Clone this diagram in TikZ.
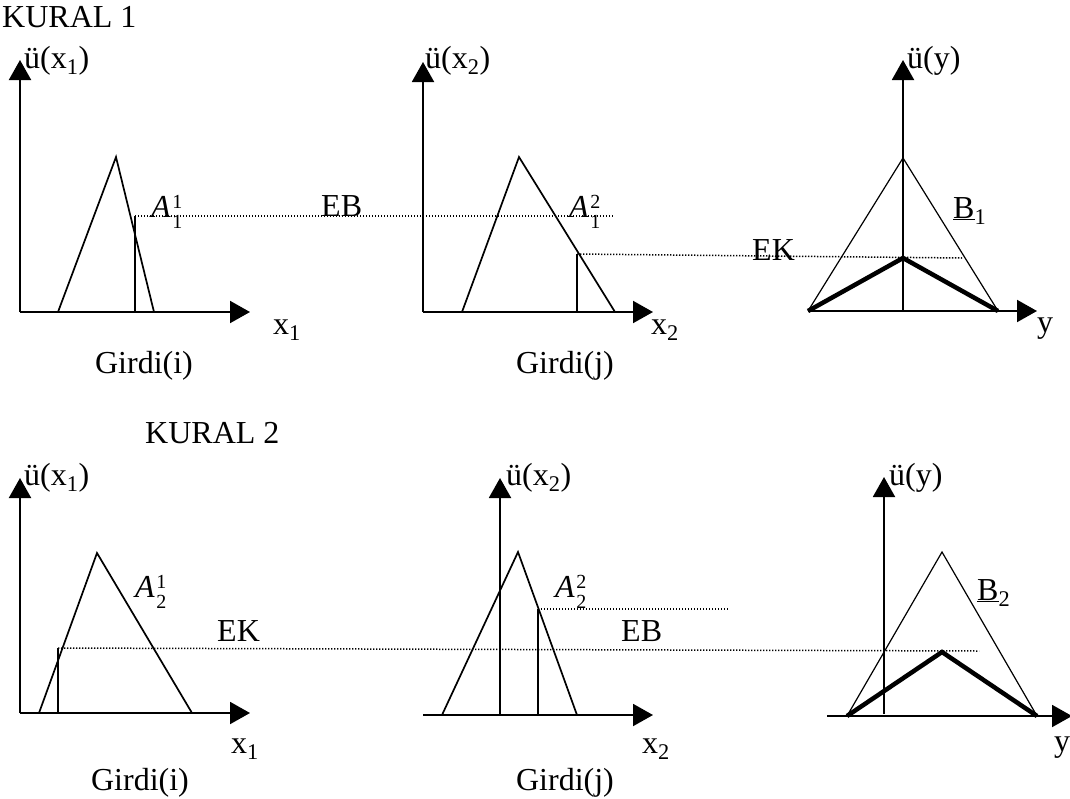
\documentclass[tikz,border=0pt]{standalone}
\usepackage{fontspec}
\setmainfont{Liberation Serif}
\usetikzlibrary{arrows.meta}
\newcommand{\Alab}[2]{\textit{A}\kern1.5pt\makebox[0pt][l]{\raisebox{9pt}{\fontsize{20}{20}\selectfont #1}}\raisebox{-11pt}{\fontsize{20}{20}\selectfont #2}}
\tikzset{
  axis/.style={line width=2pt, -{Triangle[length=20pt,width=22pt]}},
  mf/.style={line width=1.7pt, line join=miter},
  mfthin/.style={line width=1.2pt, line join=miter},
  cutline/.style={line width=1.7pt},
  agg/.style={line width=4.5pt, line join=miter},
  level/.style={line width=1.5pt, dash pattern=on 1.4pt off 1.6pt},
  lbl/.style={inner sep=0pt, anchor=base west},
  lblc/.style={inner sep=0pt, anchor=base}
}
\begin{document}
\begin{tikzpicture}[x=1pt,y=-1pt,font=\fontsize{32}{36}\selectfont]
\useasboundingbox (0,0) rectangle (1070,798);
% ---------- coordinates row 1
\coordinate (a1o) at (20,312); \coordinate (a1y) at (20,60); \coordinate (a1x) at (250,312);
\coordinate (t1l) at (58,312); \coordinate (t1p) at (116,157); \coordinate (t1r) at (154,312);
\coordinate (c1b) at (135,312); \coordinate (c1t) at (135,216); \coordinate (e1r) at (613,216);
\coordinate (a2o) at (423,312); \coordinate (a2y) at (423,62); \coordinate (a2x) at (653,312);
\coordinate (t2l) at (462,312); \coordinate (t2p) at (519,157); \coordinate (t2r) at (615,312);
\coordinate (c2b) at (577,312); \coordinate (c2t) at (577,254); \coordinate (e2r) at (962,258);
\coordinate (a3b) at (903,311); \coordinate (a3y) at (903,60); \coordinate (a3l) at (808,311); \coordinate (a3x) at (1037,311);
\coordinate (t3l) at (808,311); \coordinate (t3p) at (903,158); \coordinate (t3r) at (998,311);
\coordinate (g3p) at (903,258);
% ---------- coordinates row 2
\coordinate (a4o) at (20,713); \coordinate (a4y) at (20,478); \coordinate (a4x) at (250,713);
\coordinate (t4l) at (39,713); \coordinate (t4p) at (97,553); \coordinate (t4r) at (192,713);
\coordinate (c4b) at (58,713); \coordinate (c4t) at (58,648); \coordinate (e4r) at (979,651);
\coordinate (a5l) at (423,715); \coordinate (a5x) at (653,715); \coordinate (a5b) at (500,715); \coordinate (a5y) at (500,478);
\coordinate (t5l) at (442,715); \coordinate (t5p) at (518,552); \coordinate (t5r) at (577,715);
\coordinate (c5b) at (538,715); \coordinate (c5t) at (538,609); \coordinate (e5r) at (728,609);
\coordinate (a6l) at (827,716); \coordinate (a6x) at (1072,716); \coordinate (a6b) at (884,714); \coordinate (a6y) at (884,477);
\coordinate (t6l) at (847,716); \coordinate (t6p) at (942,552); \coordinate (t6r) at (1037,716);
\coordinate (g6p) at (942,652);
% ---------- level lines
\draw[level] (c1t) -- (e1r);
\draw[level] (c2t) -- (e2r);
\draw[level] (c4t) -- (e4r);
\draw[level] (c5t) -- (e5r);
% ---------- row 1 panels
\draw[axis] (a1o) -- (a1y);
\draw[axis] (a1o) -- (a1x);
\draw[mf] (t1l) -- (t1p) -- (t1r);
\draw[cutline] (c1b) -- (c1t);
\draw[axis] (a2o) -- (a2y);
\draw[axis] (a2o) -- (a2x);
\draw[mf] (t2l) -- (t2p) -- (t2r);
\draw[cutline] (c2b) -- (c2t);
\draw[axis] (a3b) -- (a3y);
\draw[axis] (a3l) -- (a3x);
\draw[mfthin] (t3l) -- (t3p) -- (t3r);
\draw[agg] (t3l) -- (g3p) -- (t3r);
% ---------- row 2 panels
\draw[axis] (a4o) -- (a4y);
\draw[axis] (a4o) -- (a4x);
\draw[mf] (t4l) -- (t4p) -- (t4r);
\draw[cutline] (c4b) -- (c4t);
\draw[axis] (a5b) -- (a5y);
\draw[axis] (a5l) -- (a5x);
\draw[mf] (t5l) -- (t5p) -- (t5r);
\draw[cutline] (c5b) -- (c5t);
\draw[axis] (a6b) -- (a6y);
\draw[axis] (a6l) -- (a6x);
\draw[mfthin] (t6l) -- (t6p) -- (t6r);
\draw[agg] (t6l) -- (g6p) -- (t6r);
% ---------- labels row 1
\node[lbl] (k1) at (2,27) {KURAL 1};
\node[lbl] (u11) at (24,68) {ü(x\textsubscript{1})};
\node[lbl] (u12) at (425,68) {ü(x\textsubscript{2})};
\node[lbl] (u13) at (907,68) {ü(y)};
\node[lbl] (A11) at (151,217) {\Alab{1}{1}};
\node[lbl] (eb1) at (321,216) {EB};
\node[lbl] (A12) at (569,217) {\Alab{2}{1}};
\node[lbl] (ek1) at (752,260) {EK};
\node[lbl] (b1) at (953,218) {\underline{B}\textsubscript{1}};
\node[lbl] (x11) at (273,334) {x\textsubscript{1}};
\node[lbl] (x12) at (651,334) {x\textsubscript{2}};
\node[lbl] (y1) at (1037,332) {y};
\node[lblc] (g11) at (144,373) {Girdi(i)};
\node[lblc] (g12) at (565,373) {Girdi(j)};
% ---------- labels row 2
\node[lbl] (k2) at (145,443) {KURAL 2};
\node[lbl] (u21) at (24,485) {ü(x\textsubscript{1})};
\node[lbl] (u22) at (506,485) {ü(x\textsubscript{2})};
\node[lbl] (u23) at (889,485) {ü(y)};
\node[lbl] (A21) at (135,597) {\Alab{1}{2}};
\node[lbl] (A22) at (555,597) {\Alab{2}{2}};
\node[lbl] (ek2) at (217,641) {EK};
\node[lbl] (eb2) at (621,641) {EB};
\node[lbl] (b2) at (977,600) {\underline{B}\textsubscript{2}};
\node[lbl] (x21) at (231,753) {x\textsubscript{1}};
\node[lbl] (x22) at (642,753) {x\textsubscript{2}};
\node[lbl] (y2) at (1054,751) {y};
\node[lblc] (g21) at (140,790) {Girdi(i)};
\node[lblc] (g22) at (565,790) {Girdi(j)};
\end{tikzpicture}
\end{document}
